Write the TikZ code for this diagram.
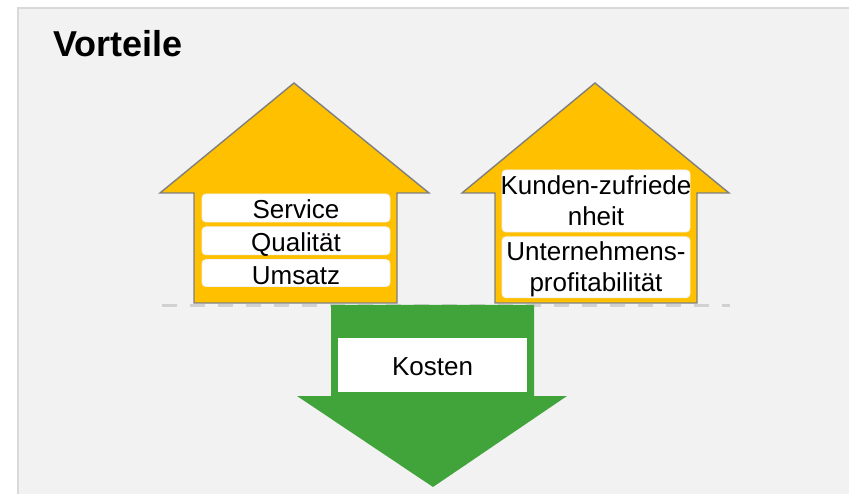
\documentclass[tikz,border=0pt]{standalone}
\usepackage{fontspec}
\setmainfont{Liberation Sans}
\usetikzlibrary{positioning}
\definecolor{gelb}{HTML}{FFC000}
\definecolor{gruen}{HTML}{41A43A}
\definecolor{flaeche}{HTML}{F2F2F2}
\definecolor{rand}{HTML}{7F7F7F}
\begin{document}
\begin{tikzpicture}[x=1pt,y=-1pt,node distance=4pt,
  haus/.style={fill=gelb,draw=rand,line width=1.4pt},
  feld/.style={fill=white,draw=white!90!gray,line width=0.8pt,rounded corners=4pt,
    minimum width=188pt,minimum height=28pt,inner sep=0pt,
    font=\fontsize{26}{31}\selectfont,text height=22pt,text depth=0pt},
  schrift/.style={inner sep=0pt,align=center,font=\fontsize{26}{31}\selectfont}]
  \useasboundingbox (0,0) rectangle (849,494);
  % Hintergrund
  \fill[flaeche] (18,8) rectangle (849,494);
  \draw[gray!30,line width=1.5pt] (18,494) |- (849,8);
  \node[anchor=base west,font=\fontsize{36}{40}\selectfont\bfseries] (titel) at (50,57) {Vorteile};
  \draw[gray!36,line width=3pt,dash pattern=on 15pt off 13pt] (161.7,305.5) -- (730,305.5);
  % Pfeile nach oben
  \draw[haus] (294,83) -- (429,193) -- (397,193) -- (397,303) -- (194,303) -- (194,193) -- (160,193) -- cycle;
  \draw[haus] (595,83) -- (729,193) -- (697,193) -- (697,303) -- (495,303) -- (495,193) -- (462,193) -- cycle;
  \node[feld] (service) at (296,208) {Service};
  \node[feld,below=of service] (qualitaet) {Qualität};
  \node[feld,below=of qualitaet,minimum height=27pt] (umsatz) {Umsatz};
  \node[feld,minimum height=62pt] (kunden) at (596,201) {};
  \node[feld,below=of kunden,minimum height=61pt] (profit) {};
  \node[schrift] (kundentext) at (kunden) {Kunden-zufriede\\nheit};
  \node[schrift,yshift=-2pt] (profittext) at (profit) {Unternehmens-\\profitabilität};
  % Pfeil nach unten
  \fill[gruen] (331,305) -- (534,305) -- (534,396) -- (567,396) -- (433,487) -- (297,396) -- (331,396) -- cycle;
  \node[fill=white,minimum width=189pt,minimum height=54pt,inner sep=0pt,
    font=\fontsize{26}{31}\selectfont,text height=20pt,text depth=0pt] (kosten) at (432.5,365) {Kosten};
\end{tikzpicture}
\end{document}
